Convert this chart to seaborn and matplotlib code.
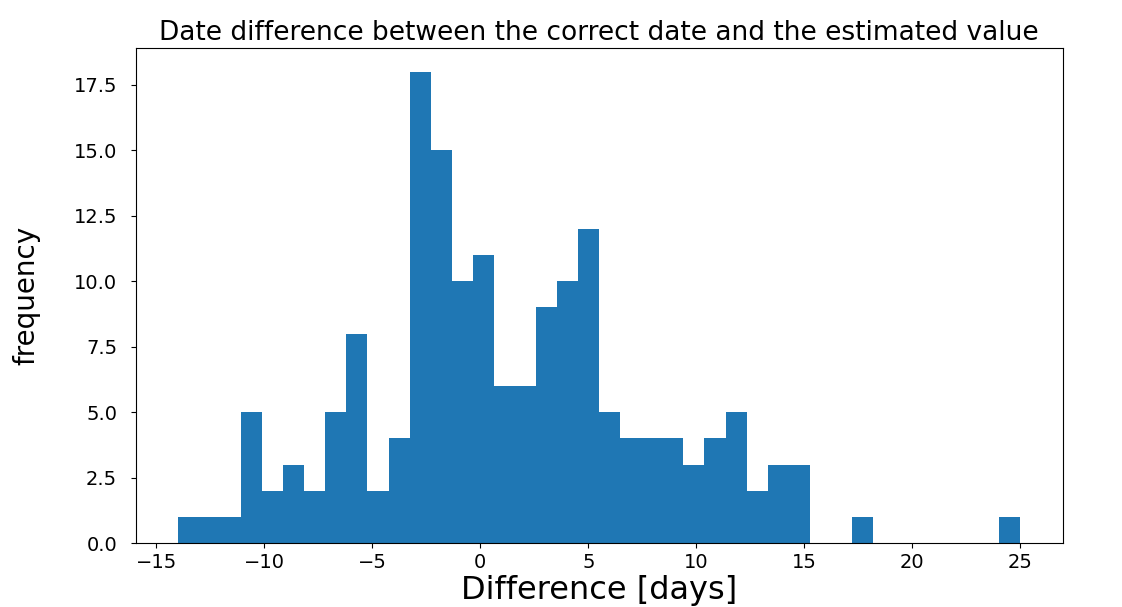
import numpy as np
import seaborn as sns
import matplotlib.pyplot as plt

# histogram counts: 40 equal bins from -14 to 25 days
bin_range = (-14, 25)
n_bins = 40
counts = [1, 1, 1, 5, 2, 3, 2, 5, 8, 2,
          4, 18, 15, 10, 11, 6, 6, 9, 10, 12,
          5, 4, 4, 4, 3, 4, 5, 2, 3, 3,
          0, 0, 1, 0, 0, 0, 0, 0, 0, 1]

edges = np.linspace(bin_range[0], bin_range[1], n_bins + 1)
centers = (edges[:-1] + edges[1:]) / 2

fig = plt.figure(figsize=(11.22, 6.07), dpi=100)
ax = fig.add_axes([0.121, 0.105, 0.826, 0.816])

sns.histplot(x=centers, weights=counts, bins=n_bins, binrange=bin_range,
             color='#1f77b4', alpha=1, linewidth=0, ax=ax)

ax.set_title('Date difference between the correct date and the estimated value',
             fontsize=19, pad=6)
ax.set_xlabel('Difference [days]', fontsize=23, labelpad=2)
ax.set_ylabel('frequency', fontsize=20, labelpad=24)
ax.tick_params(labelsize=14)
ax.tick_params(axis='y', pad=10)
ax.set_yticks(np.arange(0, 18, 2.5))
ax.yaxis.set_major_formatter(plt.FormatStrFormatter('%.1f'))

plt.savefig('out.png', dpi=100)
